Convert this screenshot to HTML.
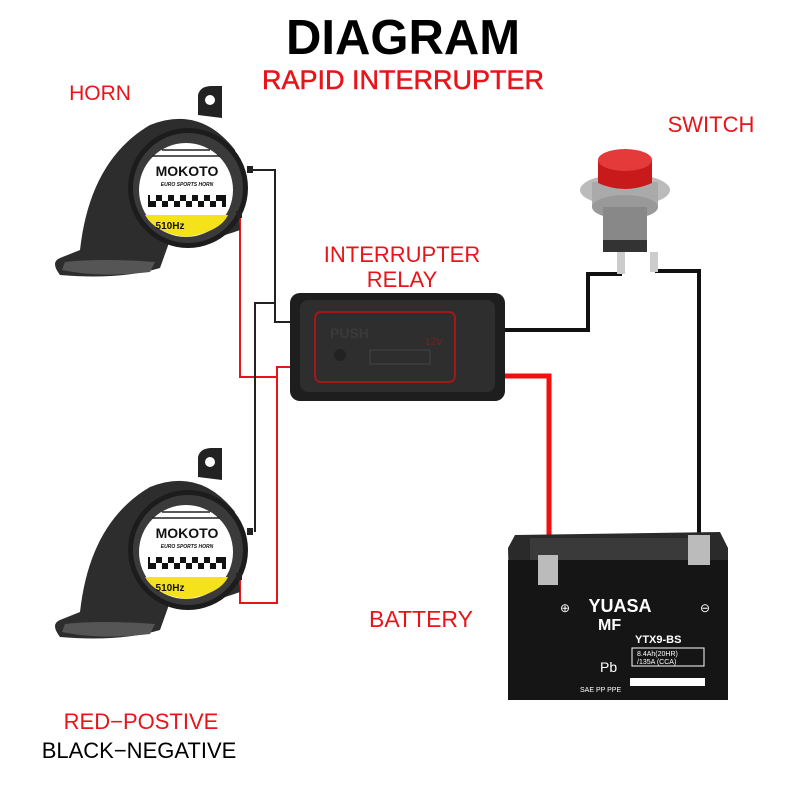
<!DOCTYPE html>
<html><head><meta charset="utf-8"><style>
html,body{margin:0;padding:0;background:#fff}
svg{display:block}
text{font-family:"Liberation Sans",sans-serif}
</style></head><body>
<svg width="800" height="800" viewBox="0 0 800 800">
<text x="403" y="54" text-anchor="middle" font-size="49" font-weight="bold" fill="#000">DIAGRAM</text>
<text x="403" y="89" text-anchor="middle" font-size="27" fill="#e8141a" stroke="#e8141a" stroke-width="0.5">RAPID INTERRUPTER</text>
<text x="100" y="100" text-anchor="middle" font-size="21" fill="#e8141a">HORN</text>
<text x="711" y="132" text-anchor="middle" font-size="22" fill="#e8141a">SWITCH</text>
<text x="402" y="262" text-anchor="middle" font-size="22" fill="#e8141a">INTERRUPTER</text>
<text x="402" y="287" text-anchor="middle" font-size="22" fill="#e8141a">RELAY</text>
<text x="421" y="627" text-anchor="middle" font-size="23" fill="#e8141a">BATTERY</text>
<text x="141" y="729" text-anchor="middle" font-size="22" fill="#e8141a">RED−POSTIVE</text>
<text x="139" y="758" text-anchor="middle" font-size="22" fill="#000">BLACK−NEGATIVE</text>

<!-- wires -->
<g fill="none" stroke-width="2">
<polyline points="252,170 275,170 275,322 298,322" stroke="#222"/>
<polyline points="240,215 240,377 276,377" stroke="#e8141a"/>
<polyline points="255,532 255,303 275,303" stroke="#222"/>
<polyline points="298,367 277,367 277,603 240,603 240,576" stroke="#e8141a"/>
</g>
<g fill="none" stroke-width="4">
<polyline points="490,330 588,330 588,274 622,274" stroke="#111"/>
<polyline points="655,271 699,271 699,545" stroke="#111"/>
<polyline points="490,376 549,376 549,575" stroke="#f01010" stroke-width="5"/>
</g>

<!-- horns -->
<g id="h1">
<path d="M198,115 L198,95 Q200,86 212,86 L222,86 L222,118 Z" fill="#222"/>
<circle cx="210" cy="100" r="5" fill="#fff"/>
<path d="M80,250 Q90,160 150,125 Q200,105 235,150 L240,230 Q200,245 170,240 L160,268 Q120,280 60,275 Q50,262 60,258 Z" fill="#2d2d2d"/>
<path d="M65,262 Q100,258 155,262 L150,272 Q100,278 62,270 Z" fill="#555"/>
<circle cx="188" cy="188" r="60" fill="#1c1c1c"/>
<circle cx="188" cy="188" r="55" fill="#3a3a3a"/>
<circle cx="186" cy="190" r="47" fill="#fff"/>
<path d="M145,215 L228,215 Q220,232 186,237 Q155,233 145,215 Z" fill="#f4e21a"/>
<rect x="148" y="195" width="78" height="12" fill="#111"/>
<g fill="#fff"><rect x="150" y="195" width="6" height="6"/><rect x="162" y="195" width="6" height="6"/><rect x="174" y="195" width="6" height="6"/><rect x="186" y="195" width="6" height="6"/><rect x="198" y="195" width="6" height="6"/><rect x="210" y="195" width="6" height="6"/><rect x="156" y="201" width="6" height="6"/><rect x="168" y="201" width="6" height="6"/><rect x="180" y="201" width="6" height="6"/><rect x="192" y="201" width="6" height="6"/><rect x="204" y="201" width="6" height="6"/><rect x="216" y="201" width="6" height="6"/></g>
<g stroke="#222" stroke-width="1.5"><line x1="162" y1="150" x2="210" y2="150"/><line x1="152" y1="156" x2="220" y2="156"/></g>
<text x="187" y="176" text-anchor="middle" font-size="14" font-weight="bold" fill="#111">MOKOTO</text>
<text x="187" y="186" text-anchor="middle" font-size="5" font-style="italic" font-weight="bold" fill="#111">EURO SPORTS HORN</text>
<text x="170" y="229" text-anchor="middle" font-size="10" font-weight="bold" fill="#111">510Hz</text>
<rect x="247" y="166" width="6" height="7" fill="#222"/>
<rect x="236" y="211" width="6" height="7" fill="#222"/>
</g>
<use href="#h1" transform="translate(0,362)"/>

<!-- relay -->
<rect x="290" y="293" width="215" height="108" rx="10" fill="#1e1e1e"/>
<rect x="300" y="300" width="195" height="92" rx="8" fill="#2e2e2e"/>
<rect x="315" y="312" width="140" height="70" rx="6" fill="none" stroke="#a01818" stroke-width="2"/>
<text x="330" y="338" font-size="14" font-weight="bold" fill="#3a3a3a">PUSH</text>
<text x="425" y="345" font-size="10" fill="#7a2020">12V</text>
<circle cx="340" cy="355" r="6" fill="#222"/>
<rect x="370" y="350" width="60" height="14" fill="none" stroke="#444"/>

<!-- switch -->
<ellipse cx="625" cy="190" rx="45" ry="16" fill="#bbb"/>
<rect x="592" y="182" width="66" height="25" fill="#aaa"/>
<ellipse cx="625" cy="207" rx="33" ry="12" fill="#999"/>
<rect x="603" y="207" width="44" height="40" fill="#888"/>
<rect x="603" y="240" width="44" height="12" fill="#333"/>
<path d="M598,160 L652,160 L652,183 Q625,195 598,183 Z" fill="#c81a1a"/>
<ellipse cx="625" cy="160" rx="27" ry="11" fill="#e43a3a"/>
<rect x="617" y="252" width="8" height="22" fill="#ccc"/>
<rect x="650" y="252" width="8" height="20" fill="#ccc"/>

<!-- battery -->
<path d="M515,535 L720,532 L728,548 L728,700 L512,700 L508,548 Z" fill="#2a2a2a"/>
<rect x="508" y="560" width="220" height="140" fill="#151515"/>
<rect x="530" y="538" width="175" height="22" fill="#3a3a3a"/>
<rect x="538" y="555" width="20" height="30" fill="#bbb"/>
<rect x="688" y="535" width="22" height="30" fill="#bbb"/>
<text x="620" y="612" text-anchor="middle" font-size="18" font-weight="bold" fill="#fff">YUASA</text>
<text x="598" y="630" font-size="16" font-weight="bold" fill="#fff">MF</text>
<text x="635" y="643" font-size="11" font-weight="bold" fill="#fff">YTX9-BS</text>
<rect x="632" y="648" width="72" height="18" fill="none" stroke="#fff"/>
<text x="637" y="656" font-size="7" fill="#fff">8.4Ah(20HR)</text>
<text x="637" y="664" font-size="7" fill="#fff">/135A (CCA)</text>
<text x="600" y="672" font-size="14" fill="#fff">Pb</text>
<text x="560" y="612" font-size="12" fill="#fff">⊕</text>
<text x="700" y="612" font-size="12" fill="#fff">⊖</text>
<rect x="630" y="678" width="75" height="8" fill="#fff"/>
<text x="580" y="692" font-size="7" fill="#fff">SAE PP PPE</text>
</svg>
</body></html>
